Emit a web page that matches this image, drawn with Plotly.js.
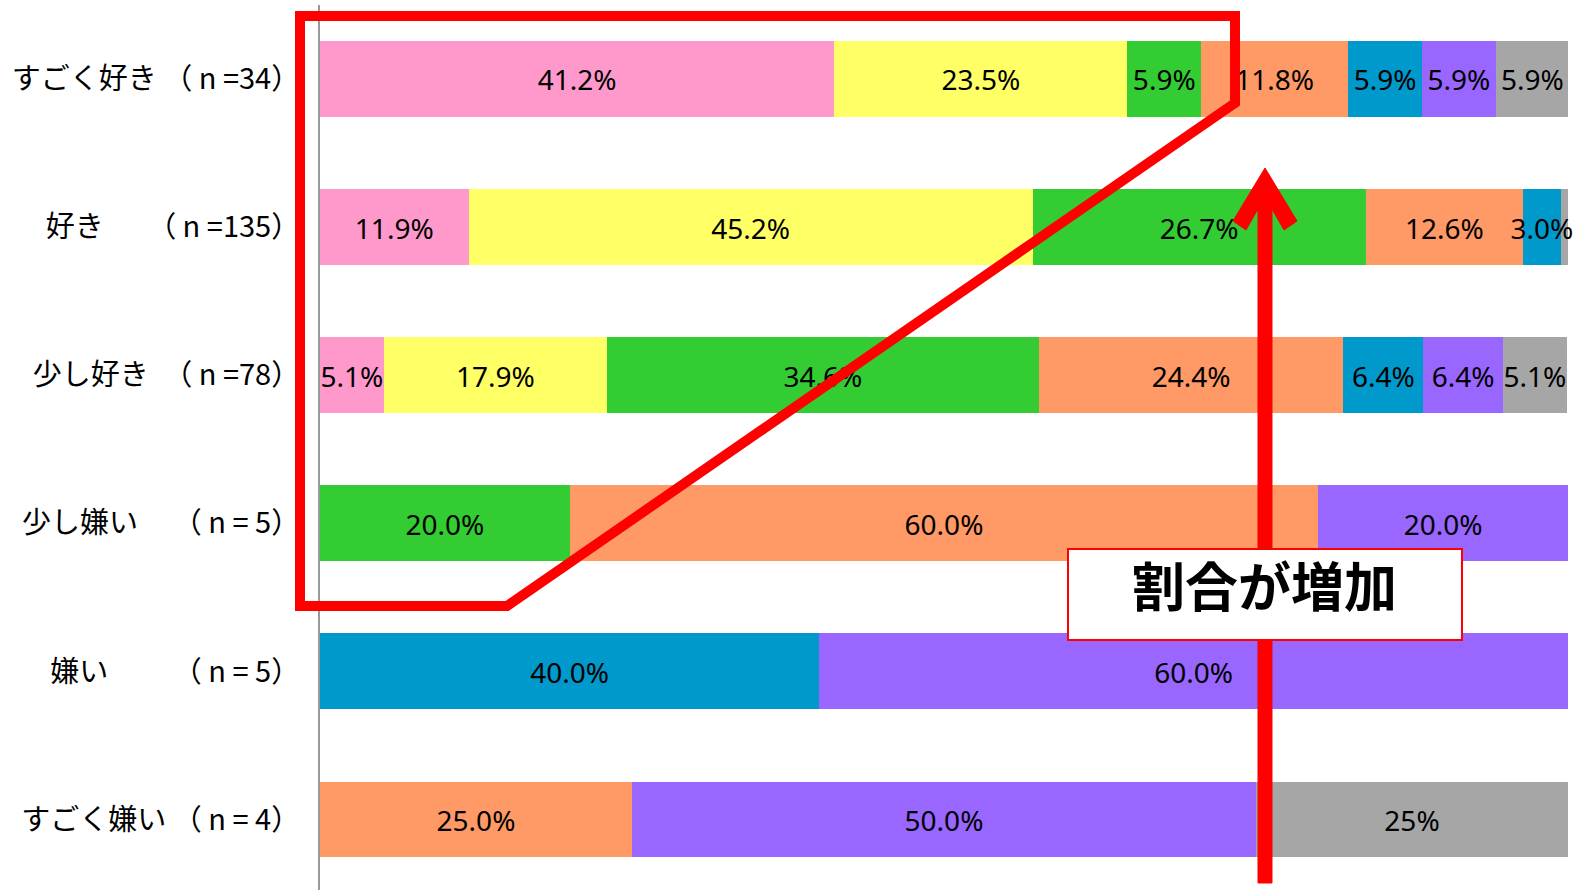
<!DOCTYPE html>
<html>
<head>
<meta charset="utf-8">
<script src="https://cdn.plot.ly/plotly-3.0.1.min.js"></script>
<style>html,body{margin:0;padding:0;background:#fff;}#chart{width:1577px;height:890px;}</style>
</head>
<body>
<div id="chart"></div>
<script>
// Categories (top to bottom)
const categories = [
  "すごく好き （ n =34）",
  "好き　　（ n =135）",
  "少し好き　（ n =78）",
  "少し嫌い　\u2009（ n = 5）",
  "嫌い　　 （ n = 5）",
  "すごく嫌い （ n = 4）"
];
// Series values (%) per category, in stack order (left to right)
const s1 = [41.2, 11.9, 5.1, null, null, null];   // pink
const s2 = [23.5, 45.2, 17.9, null, null, null];  // yellow
const s3 = [5.9, 26.7, 34.6, 20.0, null, null];   // green
const s4 = [11.8, 12.6, 24.4, 60.0, null, 25.0];  // orange
const s5 = [5.9, 3.0, 6.4, null, 40.0, null];     // blue
const s6 = [5.9, null, 6.4, 20.0, 60.0, 50.0];    // purple
const s7 = [5.9, 0.7, 5.1, null, null, 25.0];     // gray
// Labels shown on segments
const t1 = ["41.2%", "11.9%", "5.1%", "", "", ""];
const t2 = ["23.5%", "45.2%", "17.9%", "", "", ""];
const t3 = ["5.9%", "26.7%", "34.6%", "20.0%", "", ""];
const t4 = ["11.8%", "12.6%", "24.4%", "60.0%", "", "25.0%"];
const t5 = ["5.9%", "3.0%", "6.4%", "", "40.0%", ""];
const t6 = ["5.9%", "", "6.4%", "20.0%", "60.0%", "50.0%"];
const t7 = ["5.9%", "", "5.1%", "", "", "25%"];

const series = [s1, s2, s3, s4, s5, s6, s7];
const texts = [t1, t2, t3, t4, t5, t6, t7];
const colors = ["#FF99CC", "#FFFF66", "#33CC33", "#FF9966", "#0099CC", "#9966FF", "#A6A6A6"];

const FONT = "Noto Sans, Noto Sans CJK JP, sans-serif";
const YRANGE = [5.476, -0.5];
const LABEL_DY = 0.03; // small downward nudge so labels sit centred in the bars

// stacked bars
const bars = series.map((v, i) => ({
  type: "bar",
  orientation: "h",
  y: categories,
  x: v,
  marker: {color: colors[i], line: {width: 0}},
  hoverinfo: "none",
  showlegend: false,
  cliponaxis: false
}));

// segment labels placed at the middle of each stacked segment (on an overlaid linear axis)
const lx = [], ly = [], lt = [];
let run = categories.map(() => 0);
series.forEach((v, i) => {
  v.forEach((val, j) => {
    if (val && texts[i][j]) {
      lx.push(run[j] + val / 2);
      ly.push(j + LABEL_DY);
      lt.push(texts[i][j]);
    }
  });
  run = run.map((r, j) => r + (v[j] || 0));
});
const labels = {
  type: "scatter", mode: "text",
  x: lx, y: ly, text: lt, yaxis: "y2",
  textposition: "middle center",
  textfont: {family: FONT, size: 28, color: "#000"},
  cliponaxis: false, hoverinfo: "none", showlegend: false
};

// geometry helpers for annotation decorations (paper coords)
const L = 320, R = 9, T = 5, B = 0, W = 1577, H = 890;
const pw = W - L - R, ph = H - T - B;
const px = x => ((x - L) / pw).toFixed(5);
const py = y => ((H - B - y) / ph).toFixed(5);

const poly = [[300,16],[1235,16],[1235,103],[507,606],[300,606]];
const polyPath = "M " + poly.map(p => px(p[0]) + "," + py(p[1])).join(" L ") + " Z";

const arrow = [[1265,168],[1297,221],[1284,230],[1272,209],[1272,883],[1258,883],[1258,209],[1246,230],[1233,221]];
const arrowPath = "M " + arrow.map(p => px(p[0]) + "," + py(p[1])).join(" L ") + " Z";

const layout = {
  width: W, height: H,
  margin: {l: L, r: R, t: T, b: B, pad: 0},
  barmode: "stack",
  bargap: 0.487,
  paper_bgcolor: "#fff",
  plot_bgcolor: "#fff",
  font: {family: FONT, color: "#000"},
  xaxis: {range: [0, 100], showticklabels: false, showgrid: false, zeroline: false, showline: false, fixedrange: true},
  yaxis: {
    type: "category",
    categoryorder: "array", categoryarray: categories,
    range: YRANGE,
    showgrid: false, zeroline: false,
    showline: true, linecolor: "#999999", linewidth: 2,
    ticks: "", ticklabelstandoff: 12,
    tickfont: {family: "Noto Sans CJK JP, Noto Sans, sans-serif", size: 29, color: "#000"},
    fixedrange: true
  },
  yaxis2: {
    type: "linear", overlaying: "y", range: YRANGE, visible: false,
    showgrid: false, zeroline: false, fixedrange: true
  },
  shapes: [
    {type: "path", xref: "paper", yref: "paper", path: polyPath, line: {color: "#FF0000", width: 10}, fillcolor: "rgba(0,0,0,0)", layer: "above"},
    {type: "path", xref: "paper", yref: "paper", path: arrowPath, line: {color: "#FF0000", width: 1}, fillcolor: "#FF0000", layer: "above"},
    {type: "rect", xref: "paper", yref: "paper", x0: px(1068), x1: px(1462), y0: py(640), y1: py(549), line: {color: "#FF0000", width: 2}, fillcolor: "#FFFFFF", layer: "above"}
  ],
  annotations: [
    {xref: "paper", yref: "paper", x: px(1265), y: py(584), xanchor: "center", yanchor: "middle",
     text: "<b>割合が増加</b>", showarrow: false,
     font: {family: "Noto Sans CJK JP, sans-serif", size: 53, color: "#000"}}
  ],
  hovermode: false
};

Plotly.newPlot("chart", bars.concat([labels]), layout, {displayModeBar: false, staticPlot: true});
</script>
</body>
</html>
